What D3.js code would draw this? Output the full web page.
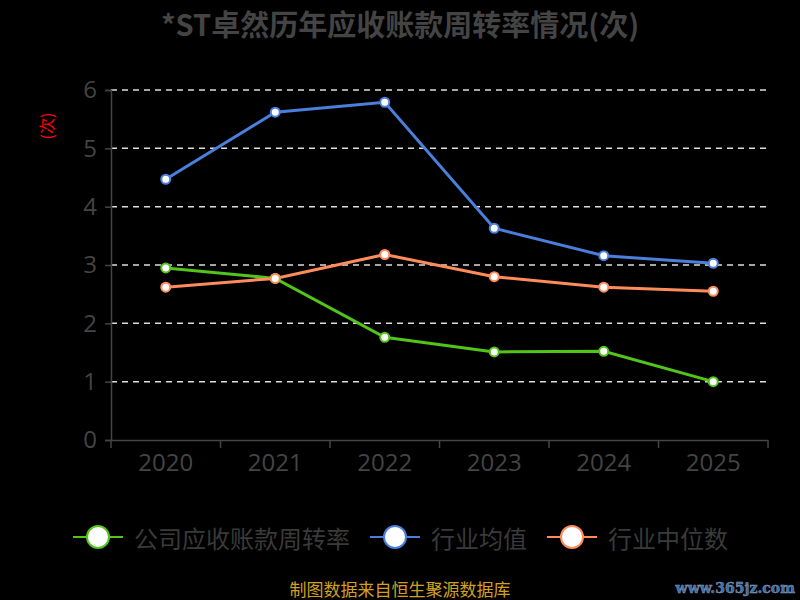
<!DOCTYPE html>
<html>
<head>
<meta charset="utf-8">
<script src="https://cdn.jsdelivr.net/npm/d3@7"></script>
<style>
  html, body { margin: 0; padding: 0; background: #000; }
  svg { display: block; font-family: "Noto Sans CJK SC", "Noto Sans", sans-serif; }
</style>
</head>
<body>
<svg id="chart" width="800" height="600"></svg>
<script>
const years = ["2020", "2021", "2022", "2023", "2024", "2025"];
const company = [2.95, 2.77, 1.76, 1.51, 1.52, 1.00];
const industryAvg = [4.47, 5.62, 5.79, 3.63, 3.16, 3.03];
const industryMedian = [2.62, 2.77, 3.18, 2.80, 2.62, 2.55];
const yTicks = [0, 1, 2, 3, 4, 5, 6];

const series = [
  { name: "公司应收账款周转率", color: "#52c41a", values: company },
  { name: "行业均值", color: "#4a7fdc", values: industryAvg },
  { name: "行业中位数", color: "#ff8c5a", values: industryMedian }
];

const svg = d3.select("#chart");
const margin = { left: 111, right: 32, top: 90, bottom: 160 };
const width = 800 - margin.left - margin.right;
const height = 600 - margin.top - margin.bottom;

// Title
svg.append("text")
    .attr("x", 400)
    .attr("y", 23)
    .attr("text-anchor", "middle")
    .attr("dominant-baseline", "central")
    .attr("fill", "#444")
    .attr("font-size", 29)
    .attr("font-weight", "bold")
    .text("*ST卓然历年应收账款周转率情况(次)");

const g = svg.append("g")
    .attr("transform", `translate(${margin.left},${margin.top})`);

const x = d3.scaleBand()
    .domain(years)
    .range([0, width]);

const y = d3.scaleLinear()
    .domain([0, 6])
    .range([height, 0]);

// Grid lines
g.append("g")
  .selectAll("line")
  .data(yTicks.filter(d => d > 0))
  .join("line")
    .attr("x1", 0)
    .attr("x2", width)
    .attr("y1", d => y(d))
    .attr("y2", d => y(d))
    .attr("stroke", "#ddd")
    .attr("stroke-width", 1.5)
    .attr("stroke-dasharray", "6 5");

// Y axis
const yAxis = g.append("g")
    .call(d3.axisLeft(y).tickValues(yTicks).tickFormat(d3.format("d")).tickSize(6).tickPadding(8));
yAxis.select(".domain").attr("stroke", "#444").attr("stroke-width", 1.5);
yAxis.selectAll(".tick line").attr("stroke", "#444").attr("stroke-width", 1.5);
yAxis.selectAll(".tick text")
    .attr("fill", "#444")
    .attr("font-size", 24)
    .attr("font-family", "'Open Sans', sans-serif");

// X axis
const xAxis = g.append("g")
    .attr("transform", `translate(0,${height})`)
    .call(d3.axisBottom(x).tickSize(0).tickPadding(14));
xAxis.select(".domain").attr("stroke", "#444").attr("stroke-width", 1.5);
xAxis.selectAll(".tick text")
    .attr("fill", "#444")
    .attr("font-size", 24)
    .attr("font-family", "'Open Sans', sans-serif");
xAxis.append("g")
  .selectAll("line")
  .data(years.concat(["end"]))
  .join("line")
    .attr("x1", (d, i) => i * x.step())
    .attr("x2", (d, i) => i * x.step())
    .attr("y1", 0)
    .attr("y2", 8)
    .attr("stroke", "#444")
    .attr("stroke-width", 1.5);

// Y unit label
svg.append("text")
    .attr("transform", "translate(49,126) rotate(-90)")
    .attr("text-anchor", "middle")
    .attr("dominant-baseline", "middle")
    .attr("fill", "#ff0000")
    .attr("font-size", 16)
    .text("(次)");

// Lines
const line = d3.line()
    .x((d, i) => x(years[i]) + x.bandwidth() / 2)
    .y(d => y(d));

const lines = g.append("g");
series.forEach(s => {
  lines.append("path")
      .datum(s.values)
      .attr("fill", "none")
      .attr("stroke", s.color)
      .attr("stroke-width", 3)
      .attr("d", line);
});
series.forEach(s => {
  lines.append("g")
    .selectAll("circle")
    .data(s.values)
    .join("circle")
      .attr("cx", (d, i) => x(years[i]) + x.bandwidth() / 2)
      .attr("cy", d => y(d))
      .attr("r", 4.5)
      .attr("fill", "#fff")
      .attr("stroke", s.color)
      .attr("stroke-width", 2);
});

// Legend
const legendX = [73, 370, 547];
const legend = svg.append("g")
  .selectAll("g")
  .data(series)
  .join("g")
    .attr("transform", (d, i) => `translate(${legendX[i]},537)`);
legend.append("line")
    .attr("x1", 0)
    .attr("x2", 50)
    .attr("stroke", d => d.color)
    .attr("stroke-width", 2);
legend.append("circle")
    .attr("cx", 25)
    .attr("r", 11)
    .attr("fill", "#fff")
    .attr("stroke", d => d.color)
    .attr("stroke-width", 2);
legend.append("text")
    .attr("x", 61)
    .attr("y", 0)
    .attr("dominant-baseline", "central")
    .attr("fill", "#3a3a3a")
    .attr("font-size", 24)
    .text(d => d.name);

// Footer
svg.append("text")
    .attr("x", 400)
    .attr("y", 588)
    .attr("text-anchor", "middle")
    .attr("dominant-baseline", "central")
    .attr("fill", "#d4a020")
    .attr("font-size", 17)
    .text("制图数据来自恒生聚源数据库");

svg.append("text")
    .attr("x", 795)
    .attr("y", 588)
    .attr("text-anchor", "end")
    .attr("dominant-baseline", "central")
    .attr("fill", "#3a6cb0")
    .attr("stroke", "#8a9ab0")
    .attr("stroke-width", 0.5)
    .attr("font-size", 14)
    .attr("font-weight", "bold")
    .attr("font-family", "'DejaVu Serif', serif")
    .text("www.365jz.com");
</script>
</body>
</html>
